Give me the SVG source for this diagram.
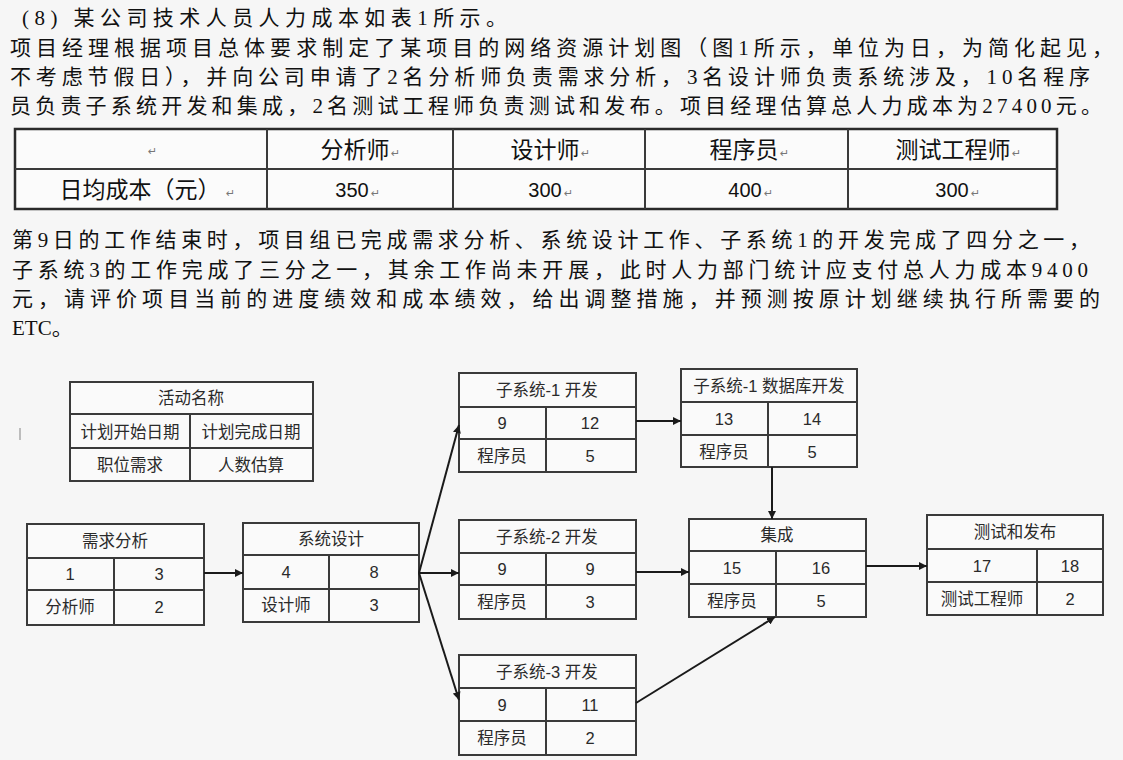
<svg xmlns="http://www.w3.org/2000/svg" width="1123" height="760" viewBox="0 0 1123 760">
<style>
.p{font-family:"Liberation Serif","Noto Sans CJK SC",serif;font-size:21px;fill:#111}
.t{font-family:"Liberation Sans","Noto Sans CJK SC",sans-serif;font-size:23px;fill:#111;text-anchor:middle}
.pm{font-family:"DejaVu Sans",sans-serif;font-size:11px;fill:#777}
.box{fill:#fafafa;stroke:#3a3a3a;stroke-width:2}
.ln{stroke:#3a3a3a;stroke-width:2;fill:none}
.n{font-family:"Liberation Sans","Noto Sans CJK SC",sans-serif;font-size:16.5px;fill:#2a2a2a;text-anchor:middle}
.c{stroke:#1a1a1a;stroke-width:2;fill:none;marker-end:url(#ah)}
</style>
<defs>
<marker id="ah" viewBox="0 0 10 10" refX="10" refY="5" markerWidth="8" markerHeight="8" orient="auto" markerUnits="userSpaceOnUse">
<path d="M0,0 L10,5 L0,10 z" fill="#1a1a1a"/>
</marker>
</defs>
<rect width="1123" height="760" fill="#f6f6f6"/>

<g id="intro">
<text class="p" x="22" y="25" textLength="485" lengthAdjust="spacing">(8) 某公司技术人员人力成本如表1所示。</text>
<text class="p" x="10" y="55" textLength="1103" lengthAdjust="spacing">项目经理根据项目总体要求制定了某项目的网络资源计划图（图1所示，单位为日，为简化起见，</text>
<text class="p" x="10" y="84" textLength="1080" lengthAdjust="spacing">不考虑节假日），并向公司申请了2名分析师负责需求分析，3名设计师负责系统涉及，10名程序</text>
<text class="p" x="10" y="113" textLength="1092" lengthAdjust="spacing">员负责子系统开发和集成，2名测试工程师负责测试和发布。项目经理估算总人力成本为27400元。</text>
</g>

<g id="cost-table">
<rect x="15" y="129" width="1042" height="80" fill="#fbfbfb" stroke="#2a2a2a" stroke-width="2.5"/>
<line class="ln" x1="15" y1="169" x2="1057" y2="169"/>
<line class="ln" x1="267" y1="129" x2="267" y2="209"/>
<line class="ln" x1="453" y1="129" x2="453" y2="209"/>
<line class="ln" x1="645" y1="129" x2="645" y2="209"/>
<line class="ln" x1="848" y1="129" x2="848" y2="209"/>
<text class="pm" x="148" y="155">↵</text>
<text class="t" x="355" y="158">分析师</text><text class="pm" x="391" y="157">↵</text>
<text class="t" x="545" y="158">设计师</text><text class="pm" x="581" y="157">↵</text>
<text class="t" x="744" y="158">程序员</text><text class="pm" x="780" y="157">↵</text>
<text class="t" x="953" y="158">测试工程师</text><text class="pm" x="1012" y="157">↵</text>
<text class="t" x="140" y="198">日均成本（元）</text><text class="pm" x="226" y="197">↵</text>
<text class="t" x="352" y="197" style="font-size:20px">350</text><text class="pm" x="371" y="197">↵</text>
<text class="t" x="545" y="197" style="font-size:20px">300</text><text class="pm" x="564" y="197">↵</text>
<text class="t" x="745" y="197" style="font-size:20px">400</text><text class="pm" x="764" y="197">↵</text>
<text class="t" x="952" y="197" style="font-size:20px">300</text><text class="pm" x="971" y="197">↵</text>
</g>

<g id="question">
<text class="p" x="12" y="247" textLength="1078" lengthAdjust="spacing">第9日的工作结束时，项目组已完成需求分析、系统设计工作、子系统1的开发完成了四分之一，</text>
<text class="p" x="12" y="277" textLength="1076" lengthAdjust="spacing">子系统3的工作完成了三分之一，其余工作尚未开展，此时人力部门统计应支付总人力成本9400</text>
<text class="p" x="12" y="306" textLength="1088" lengthAdjust="spacing">元，请评价项目当前的进度绩效和成本绩效，给出调整措施，并预测按原计划继续执行所需要的</text>
<text class="p" x="12" y="335">ETC。</text>
</g>

<line x1="20" y1="428" x2="20" y2="440" stroke="#aaa" stroke-width="1.5"/>

<g id="legend">
<rect class="box" x="70" y="382" width="243" height="99"/>
<line class="ln" x1="70" y1="414" x2="313" y2="414"/>
<line class="ln" x1="70" y1="448" x2="313" y2="448"/>
<line class="ln" x1="190" y1="414" x2="190" y2="481"/>
<text class="n" x="191" y="404">活动名称</text>
<text class="n" x="130" y="438">计划开始日期</text>
<text class="n" x="251" y="438">计划完成日期</text>
<text class="n" x="130" y="471">职位需求</text>
<text class="n" x="251" y="471">人数估算</text>
</g>

<g id="node-requirements">
<rect class="box" x="27" y="524" width="177" height="101"/>
<line class="ln" x1="27" y1="558" x2="204" y2="558"/>
<line class="ln" x1="27" y1="590" x2="204" y2="590"/>
<line class="ln" x1="114" y1="558" x2="114" y2="625"/>
<text class="n" x="115" y="547">需求分析</text>
<text class="n" x="70" y="580">1</text>
<text class="n" x="159" y="580">3</text>
<text class="n" x="70" y="613">分析师</text>
<text class="n" x="159" y="613">2</text>
</g>

<g id="node-design">
<rect class="box" x="243" y="523" width="176" height="99"/>
<line class="ln" x1="243" y1="555" x2="419" y2="555"/>
<line class="ln" x1="243" y1="589" x2="419" y2="589"/>
<line class="ln" x1="329" y1="555" x2="329" y2="622"/>
<text class="n" x="331" y="545">系统设计</text>
<text class="n" x="286" y="578">4</text>
<text class="n" x="374" y="578">8</text>
<text class="n" x="286" y="611">设计师</text>
<text class="n" x="374" y="611">3</text>
</g>

<g id="node-sub1">
<rect class="box" x="459" y="373" width="177" height="99"/>
<line class="ln" x1="459" y1="407" x2="636" y2="407"/>
<line class="ln" x1="459" y1="439" x2="636" y2="439"/>
<line class="ln" x1="546" y1="407" x2="546" y2="472"/>
<text class="n" x="547" y="396">子系统-1 开发</text>
<text class="n" x="502" y="429">9</text>
<text class="n" x="590" y="429">12</text>
<text class="n" x="502" y="462">程序员</text>
<text class="n" x="590" y="462">5</text>
</g>

<g id="node-sub1-db">
<rect class="box" x="681" y="369" width="176" height="98"/>
<line class="ln" x1="681" y1="402" x2="857" y2="402"/>
<line class="ln" x1="681" y1="435" x2="857" y2="435"/>
<line class="ln" x1="768" y1="402" x2="768" y2="467"/>
<text class="n" x="769" y="392">子系统-1 数据库开发</text>
<text class="n" x="724" y="425">13</text>
<text class="n" x="812" y="425">14</text>
<text class="n" x="724" y="458">程序员</text>
<text class="n" x="812" y="458">5</text>
</g>

<g id="node-sub2">
<rect class="box" x="459" y="520" width="177" height="99"/>
<line class="ln" x1="459" y1="553" x2="636" y2="553"/>
<line class="ln" x1="459" y1="585" x2="636" y2="585"/>
<line class="ln" x1="546" y1="553" x2="546" y2="619"/>
<text class="n" x="547" y="543">子系统-2 开发</text>
<text class="n" x="502" y="575">9</text>
<text class="n" x="590" y="575">9</text>
<text class="n" x="502" y="608">程序员</text>
<text class="n" x="590" y="608">3</text>
</g>

<g id="node-integration">
<rect class="box" x="689" y="519" width="177" height="98"/>
<line class="ln" x1="689" y1="551" x2="866" y2="551"/>
<line class="ln" x1="689" y1="584" x2="866" y2="584"/>
<line class="ln" x1="776" y1="551" x2="776" y2="617"/>
<text class="n" x="777" y="541">集成</text>
<text class="n" x="732" y="574">15</text>
<text class="n" x="821" y="574">16</text>
<text class="n" x="732" y="607">程序员</text>
<text class="n" x="821" y="607">5</text>
</g>

<g id="node-sub3">
<rect class="box" x="459" y="655" width="177" height="100"/>
<line class="ln" x1="459" y1="688" x2="636" y2="688"/>
<line class="ln" x1="459" y1="721" x2="636" y2="721"/>
<line class="ln" x1="546" y1="688" x2="546" y2="755"/>
<text class="n" x="547" y="678">子系统-3 开发</text>
<text class="n" x="502" y="711">9</text>
<text class="n" x="590" y="711">11</text>
<text class="n" x="502" y="744">程序员</text>
<text class="n" x="590" y="744">2</text>
</g>

<g id="node-test">
<rect class="box" x="927" y="515" width="176" height="100"/>
<line class="ln" x1="927" y1="549" x2="1103" y2="549"/>
<line class="ln" x1="927" y1="582" x2="1103" y2="582"/>
<line class="ln" x1="1037" y1="549" x2="1037" y2="615"/>
<text class="n" x="1015" y="538">测试和发布</text>
<text class="n" x="982" y="572">17</text>
<text class="n" x="1070" y="572">18</text>
<text class="n" x="982" y="605">测试工程师</text>
<text class="n" x="1070" y="605">2</text>
</g>

<g id="connectors">
<line class="c" x1="204" y1="573" x2="243" y2="573"/>
<line class="c" x1="419" y1="573" x2="459" y2="573"/>
<line class="c" x1="419" y1="573" x2="459" y2="425"/>
<line class="c" x1="419" y1="573" x2="459" y2="700"/>
<line class="c" x1="636" y1="421" x2="681" y2="421"/>
<line class="c" x1="772" y1="467" x2="772" y2="519"/>
<line class="c" x1="636" y1="572" x2="689" y2="572"/>
<line class="c" x1="636" y1="703" x2="775" y2="617"/>
<line class="c" x1="866" y1="566" x2="927" y2="566"/>
</g>
</svg>
